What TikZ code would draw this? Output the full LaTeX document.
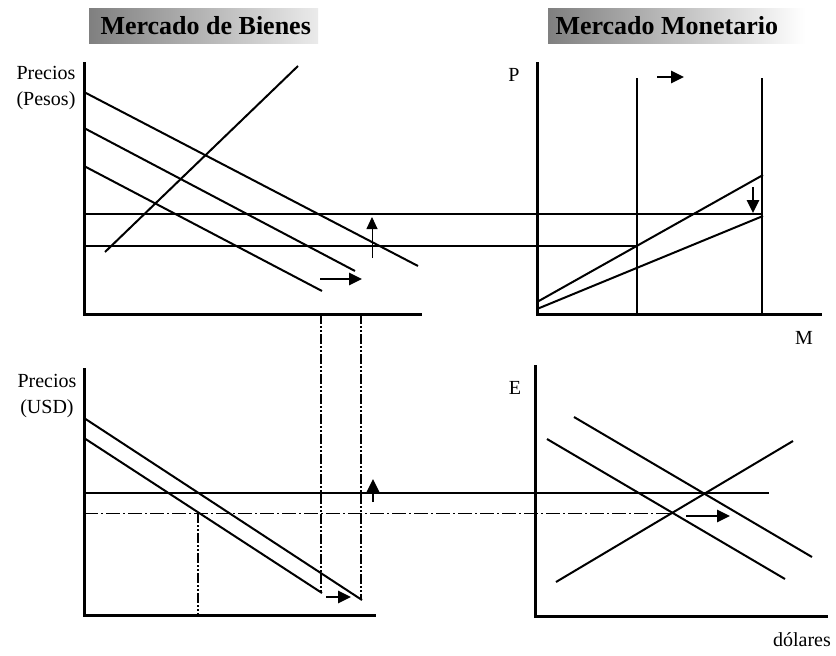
\documentclass[tikz,border=0pt]{standalone}
\usepackage{fontspec}
\setmainfont{Liberation Serif}
\usetikzlibrary{arrows.meta}

\begin{document}
\begin{tikzpicture}[
  x=1pt, y=-1pt,
  font=\fontsize{20}{26}\selectfont,
  axis/.style={line width=3pt},
  curve/.style={line width=2pt},
  level/.style={line width=1.6pt},
  guide/.style={line width=2.4pt, dash pattern=on 10pt off 2pt on 2pt off 2pt on 2pt off 2pt},
  thinguide/.style={line width=0.9pt, dash pattern=on 14pt off 3pt on 2pt off 3pt},
  shiftarrow/.style={-{Triangle[length=13pt,width=12pt]}, line width=2.6pt},
  titlebox/.style={font=\fontsize{26}{30}\selectfont\bfseries, anchor=west}
]
\useasboundingbox (0,0) rectangle (836,656);

\shade[left color=black!50, right color=black!8] (89,8) rectangle (318,43);
\shade[left color=black!50, right color=white] (548,8) rectangle (805,43);
\node[titlebox] (bienes) at (97,26) {Mercado de Bienes};
\node[titlebox] (monetario) at (552,26) {Mercado Monetario};

\node[align=center] (pesos) at (46,88) {Precios\\(Pesos)};
\node[align=center] (usd) at (47,396) {Precios\\(USD)};
\node (p) at (514,75) {P};
\node (e) at (515,388) {E};
\node (m) at (804,338) {M};
\node (dolares) at (802,640) {dólares};

\draw[axis] (84,62) -- (84,314) -- (422,314);
\draw[axis] (537,62) -- (537,314) -- (822,314);
\draw[axis] (84,368) -- (84,615) -- (376,615);
\draw[axis] (535,365) -- (535,616) -- (828,616);

\draw[curve] (105,252) -- (298,66);
\draw[curve] (84,92) -- (418,266);
\draw[curve] (84,128) -- (355,271);
\draw[curve] (84,166) -- (322,291);
\draw[level] (84,214) -- (762,214);
\draw[level] (84,246) -- (637,246);
\draw[-{Triangle[length=12pt,width=11pt]}, line width=0.9pt] (372,258) -- (372,217);
\draw[shiftarrow] (320,279) -- (362,279);

\draw[level] (637,78) -- (637,314);
\draw[level] (762,78) -- (762,314);
\draw[curve] (537,302) -- (763,175);
\draw[curve] (537,309) -- (763,216);
\draw[shiftarrow] (657,77) -- (684,77);
\draw[shiftarrow] (753,187) -- (753,213);

\draw[curve] (84,418) -- (362,600);
\draw[curve] (84,438) -- (322,593);
\draw[level] (84,493) -- (769,493);
\draw[thinguide] (84,513) -- (670,513);
\draw[guide] (198,513) -- (198,615);
\draw[guide] (321,314) -- (321,593);
\draw[guide] (361,314) -- (361,600);
\draw[shiftarrow] (373,502) -- (373,479);
\draw[shiftarrow] (326,597) -- (351,597);

\draw[curve] (556,582) -- (793,441);
\draw[curve] (574,417) -- (812,557);
\draw[curve] (547,439) -- (785,579);
\draw[shiftarrow] (686,516) -- (730,516);
\end{tikzpicture}
\end{document}
